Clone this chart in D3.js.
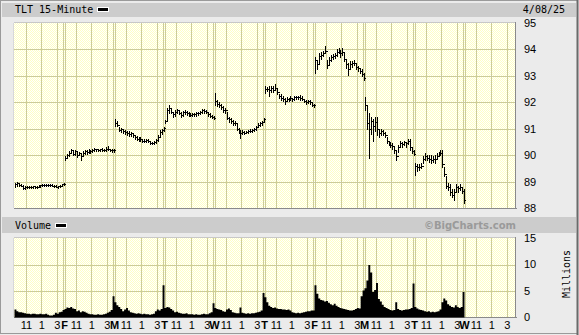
<!DOCTYPE html>
<html>
<head>
<meta charset="utf-8">
<script src="https://cdn.jsdelivr.net/npm/d3@7/dist/d3.min.js"></script>
<style>
body { margin:0; background:#ebebeb; }
svg { display:block; }
</style>
</head>
<body>
<svg id="chart"></svg>
<script>
// session labels, one per trading day shown (last day is still empty)
const dayLetters = ["", "F", "M", "T", "W", "T", "F", "M", "T", "W"];
const hourTicks = [11, 13, 15];
const hourLabels = ["11", "1", "3"];
const priceTicks = [95, 94, 93, 92, 91, 90, 89, 88];
const volumeTicks = [15, 10, 5, 0];

// 15-minute bars, 9:30 .. 15:45, [high, low, close]
const bars0327 = [[88.95,88.80,88.90],[88.98,88.85,88.95],[88.95,88.85,88.88],[88.92,88.82,88.85],[88.87,88.72,88.75],[88.82,88.70,88.78],[88.82,88.74,88.80],[88.83,88.76,88.78],[88.82,88.75,88.80],[88.84,88.77,88.82],[88.84,88.76,88.78],[88.82,88.74,88.80],[88.86,88.78,88.84],[88.88,88.80,88.86],[88.90,88.82,88.86],[88.91,88.83,88.88],[88.90,88.83,88.87],[88.91,88.84,88.88],[88.90,88.83,88.86],[88.90,88.82,88.85],[88.88,88.80,88.84],[88.87,88.78,88.80],[88.85,88.76,88.82],[88.86,88.78,88.84],[88.92,88.82,88.90],[88.96,88.86,88.92]];
const bars0328 = [[89.95,89.80,89.90],[90.05,89.88,90.02],[90.15,89.98,90.10],[90.22,90.08,90.18],[90.18,90.00,90.05],[90.20,90.02,90.15],[90.15,89.92,90.00],[90.12,90.00,90.08],[90.05,89.82,89.95],[90.15,89.98,90.10],[90.20,90.05,90.15],[90.18,90.05,90.12],[90.22,90.08,90.18],[90.20,90.10,90.15],[90.22,90.12,90.20],[90.26,90.15,90.22],[90.25,90.16,90.22],[90.25,90.15,90.20],[90.24,90.15,90.22],[90.26,90.16,90.20],[90.24,90.14,90.18],[90.30,90.15,90.25],[90.34,90.18,90.22],[90.24,90.14,90.18],[90.24,90.12,90.20],[90.22,90.12,90.18]];
const bars0331 = [[91.35,91.10,91.22],[91.28,91.10,91.15],[91.05,90.90,90.95],[91.02,90.88,90.98],[91.00,90.85,90.90],[90.95,90.80,90.88],[90.92,90.78,90.85],[90.92,90.72,90.80],[90.88,90.72,90.82],[90.85,90.70,90.75],[90.78,90.60,90.68],[90.72,90.58,90.62],[90.70,90.55,90.60],[90.68,90.55,90.62],[90.62,90.50,90.55],[90.60,90.48,90.55],[90.62,90.50,90.58],[90.60,90.48,90.52],[90.55,90.42,90.45],[90.50,90.42,90.45],[90.52,90.42,90.48],[90.62,90.45,90.58],[90.75,90.55,90.70],[90.95,90.70,90.88],[91.00,90.80,90.95],[91.05,90.90,91.02]];
const bars0401 = [[91.32,91.20,91.28],[91.80,91.30,91.72],[91.88,91.60,91.80],[91.80,91.60,91.65],[91.65,91.45,91.55],[91.70,91.50,91.62],[91.75,91.60,91.70],[91.72,91.55,91.60],[91.65,91.45,91.52],[91.68,91.50,91.62],[91.72,91.55,91.65],[91.66,91.52,91.58],[91.62,91.48,91.55],[91.60,91.48,91.52],[91.60,91.48,91.55],[91.60,91.50,91.56],[91.62,91.50,91.58],[91.64,91.52,91.60],[91.68,91.55,91.62],[91.75,91.58,91.70],[91.75,91.60,91.68],[91.72,91.58,91.65],[91.62,91.50,91.55],[91.60,91.45,91.50],[91.52,91.40,91.45],[91.50,91.35,91.42]];
const bars0402 = [[92.35,91.90,92.05],[92.08,91.85,91.95],[92.00,91.82,91.90],[91.95,91.75,91.82],[91.85,91.65,91.72],[91.80,91.60,91.70],[91.65,91.35,91.40],[91.45,91.25,91.35],[91.40,91.20,91.30],[91.33,91.15,91.22],[91.30,91.15,91.20],[91.20,90.95,91.00],[91.02,90.85,90.90],[90.95,90.64,90.85],[90.95,90.80,90.88],[90.92,90.80,90.85],[90.92,90.82,90.88],[90.94,90.84,90.90],[90.98,90.86,90.92],[91.00,90.88,90.95],[91.02,90.90,90.98],[91.10,90.95,91.05],[91.22,91.05,91.15],[91.25,91.10,91.20],[91.28,91.15,91.25],[91.40,91.25,91.38]];
const bars0403 = [[92.60,92.35,92.50],[92.58,92.42,92.50],[92.60,92.25,92.45],[92.60,92.40,92.55],[92.60,92.38,92.48],[92.70,92.45,92.55],[92.50,92.30,92.38],[92.32,92.15,92.25],[92.30,92.10,92.18],[92.22,92.05,92.12],[92.15,91.95,92.05],[92.20,92.05,92.12],[92.18,92.05,92.10],[92.22,92.08,92.15],[92.18,92.05,92.12],[92.22,92.10,92.20],[92.25,92.12,92.20],[92.25,92.12,92.20],[92.26,92.10,92.16],[92.24,92.08,92.14],[92.12,92.00,92.05],[92.08,91.95,92.02],[92.10,91.98,92.05],[92.08,91.95,92.00],[92.00,91.85,91.90],[91.95,91.82,91.88]];
const bars0404 = [[93.72,93.10,93.60],[93.60,93.25,93.45],[93.85,93.45,93.75],[93.90,93.65,93.80],[93.95,93.75,93.85],[94.12,93.85,93.95],[93.60,93.30,93.40],[93.70,93.45,93.60],[93.80,93.55,93.70],[93.82,93.62,93.75],[93.88,93.68,93.80],[94.00,93.75,93.90],[94.05,93.85,93.95],[93.98,93.72,93.85],[94.05,93.78,93.90],[93.85,93.55,93.65],[93.60,93.30,93.45],[93.50,93.05,93.25],[93.55,93.30,93.45],[93.55,93.35,93.50],[93.60,93.40,93.50],[93.48,93.25,93.35],[93.38,93.20,93.28],[93.30,93.12,93.20],[93.25,93.00,93.08],[93.12,92.85,92.90]];
const bars0407 = [[92.20,91.70,91.90],[91.85,91.00,91.20],[91.60,89.88,91.00],[91.45,90.80,91.30],[91.35,90.55,91.10],[91.45,90.90,91.25],[91.45,90.75,91.00],[91.00,90.70,90.85],[91.00,90.75,90.90],[90.95,90.75,90.85],[90.88,90.70,90.78],[90.70,90.45,90.55],[90.55,90.38,90.45],[90.50,90.32,90.40],[90.45,90.25,90.35],[90.32,90.08,90.20],[90.20,89.82,89.95],[90.40,90.12,90.32],[90.55,90.32,90.45],[90.50,90.32,90.42],[90.55,90.38,90.48],[90.50,90.32,90.45],[90.62,90.42,90.55],[90.62,90.20,90.30],[90.28,90.08,90.15],[90.20,90.00,90.05]];
const bars0408 = [[89.70,89.25,89.60],[89.65,89.40,89.55],[89.65,89.45,89.55],[89.70,89.50,89.60],[89.95,89.70,89.85],[90.07,89.82,89.95],[90.00,89.82,89.90],[90.00,89.75,89.85],[90.00,89.70,89.80],[89.95,89.75,89.85],[90.00,89.70,89.85],[90.07,89.88,89.98],[90.12,89.95,90.05],[90.20,90.00,90.10],[90.20,89.55,89.65],[89.55,89.20,89.30],[89.20,88.75,88.85],[88.95,88.68,88.80],[88.90,88.50,88.60],[88.70,88.40,88.50],[88.70,88.30,88.60],[88.90,88.62,88.80],[88.85,88.62,88.75],[88.92,88.68,88.80],[88.78,88.58,88.65],[88.70,88.20,88.30]];

// volume per bar, millions of shares
const vol0327 = [1.5,1.2,1.0,1.0,0.9,0.8,0.7,0.7,0.6,0.7,0.7,0.6,0.6,0.7,0.6,0.6,0.7,0.5,0.4,0.4,0.5,0.9,0.7,1.0,1.1,1.4];
const vol0328 = [1.6,1.9,1.8,2.0,1.7,1.6,1.2,1.3,1.0,1.2,1.1,0.9,0.7,0.6,0.6,0.5,0.5,0.6,0.5,0.5,0.6,0.7,0.9,1.1,1.4,4.0];
const vol0331 = [2.9,2.3,2.0,1.6,1.2,1.5,1.8,1.3,1.0,0.9,0.8,0.7,0.8,0.7,0.6,0.7,0.6,0.6,0.5,0.6,0.7,1.2,1.5,1.3,1.6,6.1];
const vol0401 = [1.8,2.0,1.9,1.6,1.3,1.0,1.1,0.9,0.8,0.7,0.7,0.8,0.6,0.6,0.6,0.5,0.6,0.5,0.5,0.6,0.7,0.6,0.6,0.8,1.0,2.7];
const vol0402 = [1.8,1.6,1.5,1.4,1.2,1.1,1.5,1.7,1.4,1.0,0.9,0.8,0.8,1.9,0.9,0.8,0.7,0.8,0.7,0.8,0.8,0.9,1.0,1.1,1.3,4.6];
const vol0403 = [3.8,2.9,2.2,2.0,1.8,1.9,1.7,1.6,1.6,1.5,1.5,1.4,1.5,1.3,1.0,0.9,0.8,0.9,0.8,0.9,1.0,1.1,1.2,1.2,1.3,1.3];
const vol0404 = [6.1,4.5,3.6,3.3,3.2,3.0,3.1,2.8,2.5,2.3,2.6,2.2,2.0,1.8,1.7,1.6,1.5,1.4,1.3,1.3,1.4,1.6,1.8,1.7,4.0,5.1];
const vol0407 = [5.5,7.0,9.9,8.5,4.8,5.2,6.5,3.5,3.0,2.4,2.0,1.8,1.6,1.4,1.3,1.4,2.9,1.6,1.4,1.3,1.4,1.5,1.5,1.6,1.8,6.4];
const vol0408 = [2.0,1.7,1.5,1.4,1.3,1.2,1.1,1.2,1.0,1.1,1.0,1.1,1.2,1.5,2.9,3.6,3.2,2.5,2.2,2.0,1.9,2.3,2.0,1.8,2.0,4.8];

const priceDays = [bars0327, bars0328, bars0331, bars0401, bars0402, bars0403, bars0404, bars0407, bars0408];
const volumeDays = [vol0327, vol0328, vol0331, vol0401, vol0402, vol0403, vol0404, vol0407, vol0408];
const barsPerDay = 26;

const W = 579, H = 335;
const svg = d3.select('#chart').attr('width', W).attr('height', H);
const grid = '#cccc99';
const mono = 'DejaVu Sans Mono, monospace';
const sans = 'Liberation Sans, Arial, sans-serif';

// checkered pale yellow background of the plots
const defs = svg.append('defs');
const pat = defs.append('pattern').attr('id', 'dots')
  .attr('width', 2).attr('height', 2).attr('patternUnits', 'userSpaceOnUse');
pat.append('rect').attr('width', 2).attr('height', 2).attr('fill', '#ffffff');
pat.append('rect').attr('width', 1).attr('height', 1).attr('fill', '#ffffc4');
pat.append('rect').attr('x', 1).attr('y', 1).attr('width', 1).attr('height', 1).attr('fill', '#ffffc4');

// outer frame
svg.append('rect').attr('width', W).attr('height', H).attr('fill', '#ebebeb');
svg.append('rect').attr('x', 0.5).attr('y', 0.5).attr('width', W - 2).attr('height', H - 2)
  .attr('fill', 'none').attr('stroke', '#9a9a9a');
svg.append('line').attr('x1', W - 1.5).attr('x2', W - 1.5).attr('y1', 0).attr('y2', H)
  .attr('stroke', '#6a6a6a').attr('stroke-width', 2);

// title bands
svg.append('rect').attr('x', 2).attr('y', 3).attr('width', 574).attr('height', 14).attr('fill', '#cccccc');
svg.append('rect').attr('x', 2).attr('y', 217).attr('width', 574).attr('height', 16).attr('fill', '#cccccc');

const x = d3.scaleLinear().domain([0, 10]).range([14.5, 514.5]);
const yPrice = d3.scaleLinear().domain([88, 95]).range([208, 23]);
const yVol = d3.scaleLinear().domain([0, 15]).range([317.5, 238]);

function panel(top, bottom, yScale, ticks) {
  const g = svg.append('g');
  g.append('rect').attr('x', 14).attr('y', top).attr('width', 501).attr('height', bottom - top)
    .attr('fill', 'url(#dots)');
  // vertical grid: 11, 1, 3 each day and double lines at day breaks
  for (let d = 0; d < 10; d++) {
    hourTicks.forEach(h => {
      const xx = Math.round(x(d + (h - 9.5) / 6.5)) + 0.5;
      g.append('line').attr('x1', xx).attr('x2', xx).attr('y1', top).attr('y2', bottom).attr('stroke', grid);
    });
    if (d > 0) {
      [-1, 1].forEach(o => {
        const xx = Math.round(x(d)) + o - 0.5;
        g.append('line').attr('x1', xx).attr('x2', xx).attr('y1', top).attr('y2', bottom).attr('stroke', grid);
      });
    }
  }
  ticks.forEach(t => {
    const yy = Math.round(yScale(t)) + 0.5;
    if (yy > top + 1 && yy < bottom - 1)
      g.append('line').attr('x1', 14).attr('x2', 515).attr('y1', yy).attr('y2', yy).attr('stroke', grid);
  });
  // frame: light top/left, dark bottom/right
  g.append('line').attr('x1', 14).attr('x2', 515).attr('y1', top - 0.5).attr('y2', top - 0.5).attr('stroke', '#c8c8c8');
  g.append('line').attr('x1', 13.5).attr('x2', 13.5).attr('y1', top).attr('y2', bottom).attr('stroke', '#d8d8d8');
  g.append('line').attr('x1', 14).attr('x2', 517).attr('y1', bottom + 0.5).attr('y2', bottom + 0.5).attr('stroke', '#8a8a8a');
  g.append('line').attr('x1', 515.5).attr('x2', 515.5).attr('y1', top - 1).attr('y2', bottom + 1).attr('stroke', '#8a8a8a');
  // value labels
  ticks.forEach(t => {
    g.append('text').attr('x', 524).attr('y', yScale(t)).attr('dy', '0.36em')
      .attr('font-family', sans).attr('font-size', 11).attr('fill', '#000').text(t);
  });
}

panel(23, 208, yPrice, priceTicks);
panel(238, 317, yVol, volumeTicks);

// volume, drawn as a stepped filled area
const volPts = [];
volumeDays.forEach((day, d) => day.forEach((v, i) => volPts.push({ t: d + i / barsPerDay, v })));
volPts.push({ t: volumeDays.length, v: volPts[volPts.length - 1].v });
const area = d3.area().x(p => x(p.t)).y0(yVol(0)).y1(p => yVol(p.v)).curve(d3.curveStepAfter);
svg.append('path').datum(volPts).attr('d', area).attr('fill', '#000');

// price bars: high-low stroke, close carried across to the next bar
const priceG = svg.append('g').attr('stroke', '#000').attr('stroke-width', 1).attr('fill', 'none')
  .attr('shape-rendering', 'crispEdges');
priceDays.forEach((day, d) => {
  const bx = i => Math.round(x(d + (i + 0.5) / barsPerDay)) + 0.5;
  day.forEach((b, i) => {
    const xx = bx(i);
    const xn = i < day.length - 1 ? bx(i + 1) : xx + 1;
    priceG.append('path').attr('d',
      `M${xx},${Math.round(yPrice(b[0]))}V${Math.round(yPrice(b[1])) + 1}` +
      `M${xx - 0.5},${Math.round(yPrice(b[2])) + 0.5}H${xn + 0.5}`);
  });
});

// time axis labels
const axisG = svg.append('g').attr('font-family', sans).attr('font-size', 11).attr('text-anchor', 'middle');
for (let d = 0; d < 10; d++) {
  if (dayLetters[d]) {
    axisG.append('text').attr('x', x(d)).attr('y', 329).attr('font-weight', 'bold').text(dayLetters[d]);
  }
  hourTicks.forEach((h, k) => {
    axisG.append('text').attr('x', x(d + (h - 9.5) / 6.5) + 0.5).attr('y', 329).text(hourLabels[k]);
  });
}

// titles
svg.append('text').attr('x', 15).attr('y', 13).attr('font-family', mono).attr('font-size', 10).text('TLT 15-Minute');
svg.append('rect').attr('x', 97).attr('y', 7).attr('width', 12).attr('height', 5).attr('fill', '#fff');
svg.append('rect').attr('x', 98).attr('y', 8).attr('width', 10).attr('height', 3).attr('fill', '#000');
svg.append('text').attr('x', 565).attr('y', 13).attr('text-anchor', 'end').attr('font-family', mono).attr('font-size', 10).text('4/08/25');
svg.append('text').attr('x', 15).attr('y', 229).attr('font-family', mono).attr('font-size', 10).text('Volume');
svg.append('rect').attr('x', 55).attr('y', 223).attr('width', 12).attr('height', 5).attr('fill', '#fff');
svg.append('rect').attr('x', 56).attr('y', 224).attr('width', 10).attr('height', 3).attr('fill', '#000');
svg.append('text').attr('x', 516).attr('y', 229).attr('text-anchor', 'end').attr('font-family', 'DejaVu Sans, sans-serif')
  .attr('font-weight', 'bold').attr('font-size', 10).attr('fill', '#9a9a9a').text('\u00a9BigCharts.com');
svg.append('text').attr('transform', 'translate(570,274) rotate(-90)').attr('text-anchor', 'middle')
  .attr('font-family', mono).attr('font-size', 10).text('Millions');
</script>
</body>
</html>
